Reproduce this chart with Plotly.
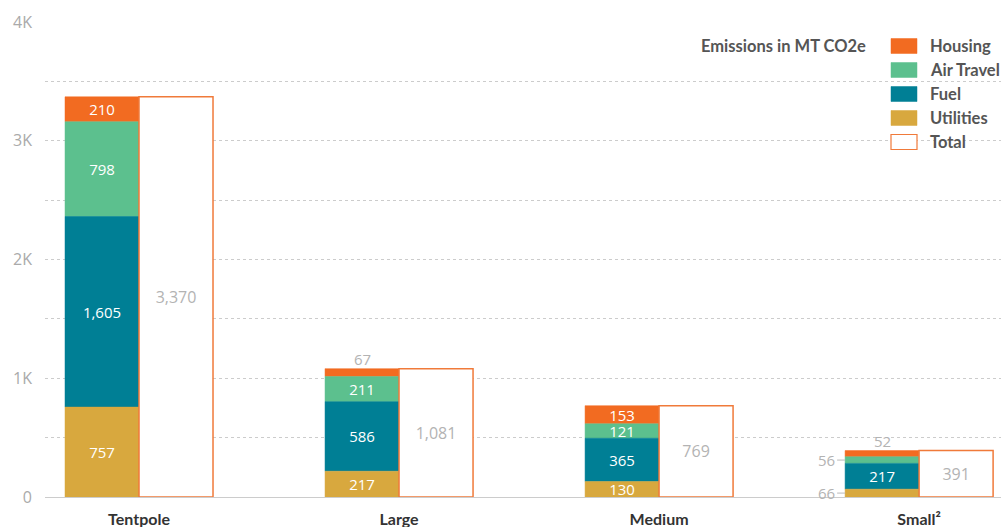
import numpy as np
import plotly.graph_objects as go

categories = ["Tentpole", "Large", "Medium", "Small²"]
utilities = [757, 217, 130, 66]
fuel = [1605, 586, 365, 217]
air_travel = [798, 211, 121, 56]
housing = [210, 67, 153, 52]
totals = [3370, 1081, 769, 391]
y_tickvals = [0, 1000, 2000, 3000, 4000]
y_ticktext = ["0", "1K", "2K", "3K", "4K"]
legend_title = "Emissions in MT CO2e"

series = [
    ("Utilities", utilities, "#D8A83E"),
    ("Fuel", fuel, "#007F95"),
    ("Air Travel", air_travel, "#5CC08E"),
    ("Housing", housing, "#F26B21"),
]
TOTAL_LINE = "#F07A3A"

BW = 0.2846
SMALL = 100
NUMFONT = "Open Sans"
TXT = "Lato"
GREY = "#b3b3b3"
VSIZE = 15

# plot area geometry (pixels) used for the legend panel placement
W, H = 1001, 527
ML, MR, MT, MB = 45, 0, 22, 30
PW, PH = W - ML - MR, H - MT - MB


def px_x(p):
    return (p - ML) / PW


def px_y(p):
    return (H - MB - p) / PH


fig = go.Figure()
base = np.zeros(len(categories))
annotations = []
traces = []
for idx, (name, vals, color) in enumerate(series):
    vals = np.array(vals, dtype=float)
    textpos = ["inside" if v >= SMALL else "none" for v in vals]
    traces.append(go.Bar(
        name=name, x=categories, y=vals, base=base.copy(),
        width=BW, offset=-BW, showlegend=False,
        marker=dict(color=color, line=dict(color=color, width=0.5)),
        text=[f"{int(v):,}" for v in vals], textposition=textpos,
        insidetextanchor="middle", constraintext="none",
        textfont=dict(color="white", size=VSIZE, family=NUMFONT),
        hoverinfo="skip",
    ))
    for i, v in enumerate(vals):
        if v < SMALL:
            if idx == len(series) - 1:
                annotations.append(dict(
                    x=i - BW / 2, y=base[i] + v, xref="x", yref="y",
                    text=f"{int(v)}", showarrow=False, yanchor="bottom", yshift=-2,
                    font=dict(color=GREY, size=VSIZE, family=NUMFONT)))
            else:
                annotations.append(dict(
                    x=i - BW, y=base[i] + v / 2, xref="x", yref="y",
                    text=f"{int(v)}", showarrow=True, arrowhead=0, arrowwidth=1,
                    arrowcolor="#bbbbbb", ax=-8, ay=0, xanchor="right",
                    font=dict(color=GREY, size=VSIZE, family=NUMFONT)))
    base = base + vals

for t in reversed(traces):
    fig.add_trace(t)

fig.add_trace(go.Bar(
    name="Total", x=categories, y=totals, width=BW, offset=0, showlegend=False,
    marker=dict(color="white", line=dict(color=TOTAL_LINE, width=1.5)),
    text=[f"{v:,}" for v in totals], textposition="inside",
    insidetextanchor="middle",
    textfont=dict(color=GREY, size=VSIZE + 1, family=NUMFONT),
    hoverinfo="skip",
))

# legend panel (drawn as layout shapes/annotations)
shapes = [dict(type="rect", xref="paper", yref="paper",
               x0=px_x(578), x1=1.0, y0=px_y(170), y1=px_y(30),
               fillcolor="white", line=dict(width=0), layer="between")]
legend_items = [(n, c, c) for n, _, c in reversed(series)] + [("Total", "white", TOTAL_LINE)]
row0, row_gap = 46, 24
sw_x0, sw_x1, sw_h = 891, 917, 15
for r, (name, fill, edge) in enumerate(legend_items):
    cy = row0 + r * row_gap
    shapes.append(dict(type="rect", xref="paper", yref="paper",
                       x0=px_x(sw_x0), x1=px_x(sw_x1),
                       y0=px_y(cy + sw_h / 2), y1=px_y(cy - sw_h / 2),
                       fillcolor=fill, line=dict(color=edge, width=1.2 if fill == "white" else 0.5)))
    annotations.append(dict(x=px_x(928), y=px_y(cy), xref="paper", yref="paper",
                            text=name, showarrow=False, xanchor="left", yanchor="middle",
                            font=dict(family=TXT, size=16.5, color="#555555", weight="bold")))
annotations.append(dict(x=px_x(868), y=px_y(row0), xref="paper", yref="paper",
                        text=legend_title, showarrow=False, xanchor="right", yanchor="middle",
                        font=dict(family=TXT, size=16.5, color="#555555", weight="bold")))

fig.update_layout(
    width=W, height=H,
    margin=dict(l=ML, r=MR, t=MT, b=MB),
    barmode="overlay",
    plot_bgcolor="white", paper_bgcolor="white",
    showlegend=False,
    xaxis=dict(
        range=[-0.3615, 3.315], showgrid=False, showline=False, ticks="",
        tickfont=dict(family=TXT, size=16, color="#333333", weight="bold"),
        ticklabelstandoff=11, fixedrange=True,
    ),
    yaxis=dict(
        range=[0, 4000], tickvals=y_tickvals, ticktext=y_ticktext,
        showgrid=True, gridcolor="#cccccc", griddash="dot", gridwidth=1,
        minor=dict(dtick=500, showgrid=True, gridcolor="#cccccc", griddash="dot", gridwidth=1),
        zeroline=True, zerolinecolor="#cccccc", zerolinewidth=1,
        tickfont=dict(family=NUMFONT, size=16, color="#aaaaaa"),
        ticklabelstandoff=12, showline=False, fixedrange=True,
    ),
    annotations=annotations,
    shapes=shapes,
)

fig.write_html("out.html", config={"displayModeBar": False},
               post_script="document.body.style.margin='0';")
